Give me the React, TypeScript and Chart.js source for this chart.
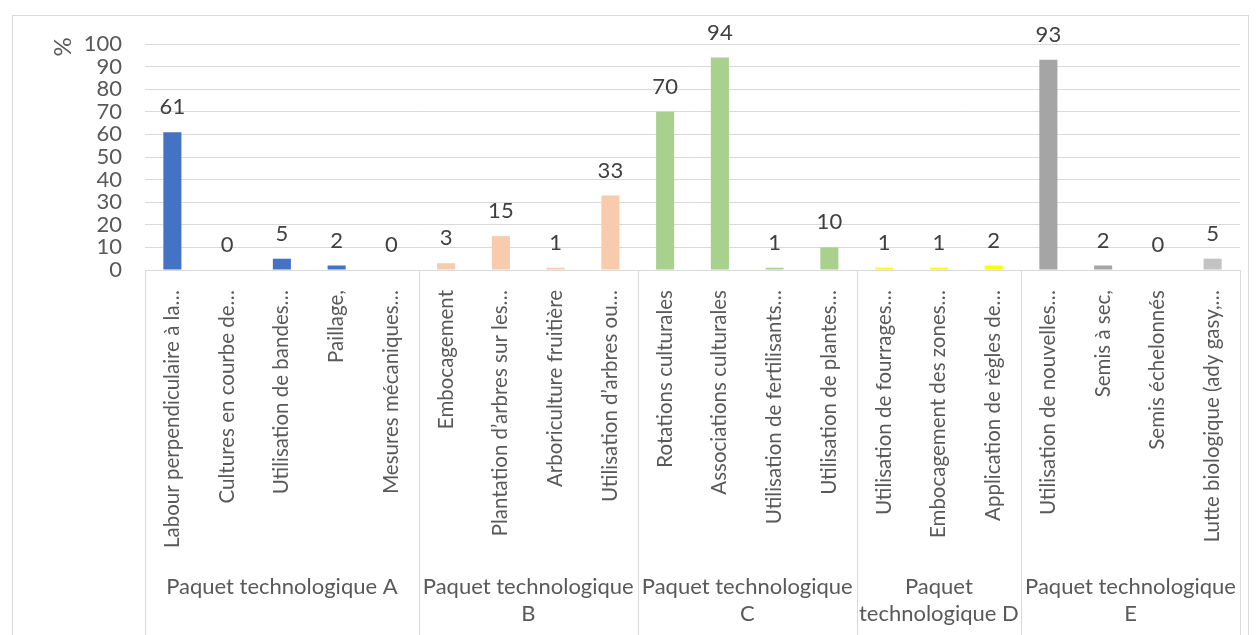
import React, { useEffect, useRef } from "react";
import { Chart, registerables } from "chart.js";

Chart.register(...registerables);

const categories = [
  "Labour perpendiculaire à la…",
  "Cultures en courbe de…",
  "Utilisation de bandes…",
  "Paillage,",
  "Mesures mécaniques…",
  "Embocagement",
  "Plantation d’arbres sur les…",
  "Arboriculture fruitière",
  "Utilisation d’arbres ou…",
  "Rotations culturales",
  "Associations culturales",
  "Utilisation de fertilisants…",
  "Utilisation de plantes…",
  "Utilisation de fourrages…",
  "Embocagement des zones…",
  "Application de règles de…",
  "Utilisation de nouvelles…",
  "Semis à sec,",
  "Semis échelonnés",
  "Lutte biologique (ady gasy,…",
];

const values = [61, 0, 5, 2, 0, 3, 15, 1, 33, 70, 94, 1, 10, 1, 1, 2, 93, 2, 0, 5];

const barColors = [
  "#4472C4", "#4472C4", "#4472C4", "#4472C4", "#4472C4",
  "#F8CBAD", "#F8CBAD", "#F8CBAD", "#F8CBAD",
  "#A9D18E", "#A9D18E", "#A9D18E", "#A9D18E",
  "#FFFF00", "#FFFF00", "#FFFF00",
  "#A5A5A5", "#A5A5A5", "#A5A5A5", "#C3C3C3",
];

const groupSizes = [5, 4, 4, 3, 4];
const groupLabels = [
  ["Paquet technologique A"],
  ["Paquet technologique", "B"],
  ["Paquet technologique", "C"],
  ["Paquet", "technologique D"],
  ["Paquet technologique", "E"],
];

const yMin = 0;
const yMax = 100;
const yStep = 10;
const yTitle = "%";

const FONT = "Lato";
const FS = 22;
const CAT_FS = 20.5;

const decor = {
  id: "decor",
  beforeDraw(chart: any) {
    const ctx = chart.ctx;
    ctx.save();
    ctx.fillStyle = "#ffffff";
    ctx.fillRect(0, 0, chart.width, chart.height);
    ctx.strokeStyle = "#D9D9D9";
    ctx.lineWidth = 1;
    ctx.strokeRect(12.5, 15.5, 1236, 700);
    ctx.restore();
  },
  afterDatasetsDraw(chart: any) {
    const ctx = chart.ctx;
    const meta = chart.getDatasetMeta(0);
    ctx.save();
    ctx.font = `${FS}px ${FONT}`;
    ctx.fillStyle = "#404040";
    ctx.textAlign = "center";
    ctx.textBaseline = "middle";
    meta.data.forEach((bar: any, i: number) => {
      ctx.fillText(String(values[i]), bar.x, bar.y - 25);
    });
    ctx.restore();
  },
  afterDraw(chart: any) {
    const { ctx, chartArea, scales } = chart;
    const x = scales.x;
    const bounds: number[] = [chartArea.left];
    let idx = 0;
    for (const n of groupSizes) {
      idx += n;
      if (idx < categories.length) {
        bounds.push((x.getPixelForValue(idx - 1) + x.getPixelForValue(idx)) / 2);
      } else {
        bounds.push(chartArea.right);
      }
    }
    ctx.save();
    ctx.strokeStyle = "#D9D9D9";
    ctx.lineWidth = 1;
    bounds.forEach((b) => {
      const xx = Math.round(b) + 0.5;
      ctx.beginPath();
      ctx.moveTo(xx, chartArea.bottom);
      ctx.lineTo(xx, chart.height);
      ctx.stroke();
    });
    ctx.font = `${FS}px ${FONT}`;
    ctx.fillStyle = "#595959";
    ctx.textAlign = "center";
    ctx.textBaseline = "middle";
    groupLabels.forEach((lines, g) => {
      const cx = (bounds[g] + bounds[g + 1]) / 2;
      lines.forEach((ln, k) => {
        ctx.fillText(ln, cx, 587 + k * 27);
      });
    });
    ctx.translate(63, 47);
    ctx.rotate(-Math.PI / 2);
    ctx.font = `${FS + 2}px ${FONT}`;
    ctx.fillText(yTitle, 0, 0);
    ctx.restore();
  },
};

export default function App() {
  const ref = useRef<HTMLCanvasElement | null>(null);
  useEffect(() => {
    if (!ref.current) return;
    const chart = new Chart(ref.current, {
      type: "bar",
      data: {
        labels: categories,
        datasets: [
          {
            data: values,
            backgroundColor: barColors,
            borderWidth: 0,
            barPercentage: 0.33,
            categoryPercentage: 1,
          },
        ],
      },
      options: {
        animation: false,
        responsive: true,
        maintainAspectRatio: false,
        layout: { padding: { left: 0, right: 20, top: 44, bottom: 0 } },
        plugins: {
          legend: { display: false },
          tooltip: { enabled: false },
        },
        scales: {
          x: {
            grid: { display: false, drawTicks: false },
            border: { display: true, color: "#D9D9D9" },
            ticks: {
              autoSkip: false,
              maxRotation: 90,
              minRotation: 90,
              padding: 20,
              color: "#595959",
              font: { family: FONT, size: CAT_FS },
            },
            afterFit(scale: any) {
              scale.height = 365;
            },
          },
          y: {
            min: yMin,
            max: yMax,
            ticks: {
              stepSize: yStep,
              autoSkip: false,
              padding: 23,
              color: "#595959",
              font: { family: FONT, size: FS },
            },
            grid: { color: "#D9D9D9", drawTicks: false },
            border: { display: false },
            afterFit(scale: any) {
              scale.width = 145;
            },
          },
        },
      },
      plugins: [decor],
    });
    return () => chart.destroy();
  }, []);
  return (
    <div style={{ position: "absolute", left: 0, top: 0, width: 1260, height: 635 }}>
      <canvas ref={ref} />
    </div>
  );
}
